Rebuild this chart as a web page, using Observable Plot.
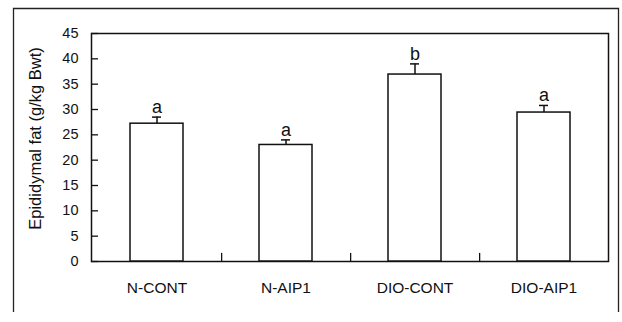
<!DOCTYPE html>
<html>
<head>
<meta charset="utf-8">
<script src="https://cdn.jsdelivr.net/npm/d3@7"></script>
<script src="https://cdn.jsdelivr.net/npm/@observablehq/plot@0.6"></script>
<style>
  html, body { margin: 0; padding: 0; background: #fff; }
  #chart { width: 622px; height: 322px; }
</style>
</head>
<body>
<div id="chart"></div>
<script>
const groups = ["N-CONT", "N-AIP1", "DIO-CONT", "DIO-AIP1"];
const means = [27.2, 23.0, 36.9, 29.4];
const sems = [1.3, 1.0, 2.1, 1.4];
const letters = ["a", "a", "b", "a"];
const yTicks = [0, 5, 10, 15, 20, 25, 30, 35, 40, 45];
const yLabel = "Epididymal fat (g/kg Bwt)";

const data = groups.map((g, i) => ({group: g, mean: means[i], top: means[i] + sems[i], letter: letters[i]}));

const font = "'Liberation Sans', Arial, sans-serif";
const frameW = 622 - 91 - 14;
const step = frameW / groups.length;

const plot = Plot.plot({
  width: 622,
  height: 322,
  marginLeft: 91,
  marginTop: 33,
  marginRight: 14,
  marginBottom: 61,
  style: {fontFamily: font, background: "#fff", color: "#111"},
  x: {domain: groups, paddingInner: 0.59, paddingOuter: 0.295, label: null},
  y: {domain: [0, 45], label: null},
  marks: [
    Plot.frame({stroke: "#111", strokeWidth: 1.5}),
    Plot.axisY({ticks: yTicks, tickSize: 0, tickPadding: 13, fontSize: 14.5, label: null}),
    Plot.tickY(yTicks, {y: d => d, stroke: "#111", strokeWidth: 1.3, insetRight: frameW - 7}),
    Plot.axisX({tickSize: 0, tickPadding: 20, fontSize: 15.5, label: null}),
    Plot.ruleX(groups.slice(0, 3), {x: d => d, dx: step / 2, y1: () => 0, y2: () => 1.6, stroke: "#111", strokeWidth: 1.3}),
    Plot.ruleX(data, {x: "group", y1: "mean", y2: "top", stroke: "#111", strokeWidth: 1.5}),
    Plot.tickY(data, {x: "group", y: "top", stroke: "#111", strokeWidth: 1.5, insetLeft: 22, insetRight: 22}),
    Plot.barY(data, {x: "group", y: "mean", fill: "#fff", stroke: "#111", strokeWidth: 1.5}),
    Plot.text(data, {x: "group", y: "top", text: "letter", dy: -4, lineAnchor: "bottom", fontSize: 18, fill: "#111"}),
    Plot.text([yLabel], {text: d => d, frameAnchor: "left", textAnchor: "middle", rotate: -90, dx: -56, dy: -9, fontSize: 16.5, fill: "#111"})
  ]
});

const svg = d3.select(plot);
svg.append("path")
  .attr("d", "M13.5,312 L13.5,8.5 L618.5,8.5 L618.5,312")
  .attr("fill", "none")
  .attr("stroke", "#222")
  .attr("stroke-width", 1.3);

document.getElementById("chart").appendChild(plot);
</script>
</body>
</html>
